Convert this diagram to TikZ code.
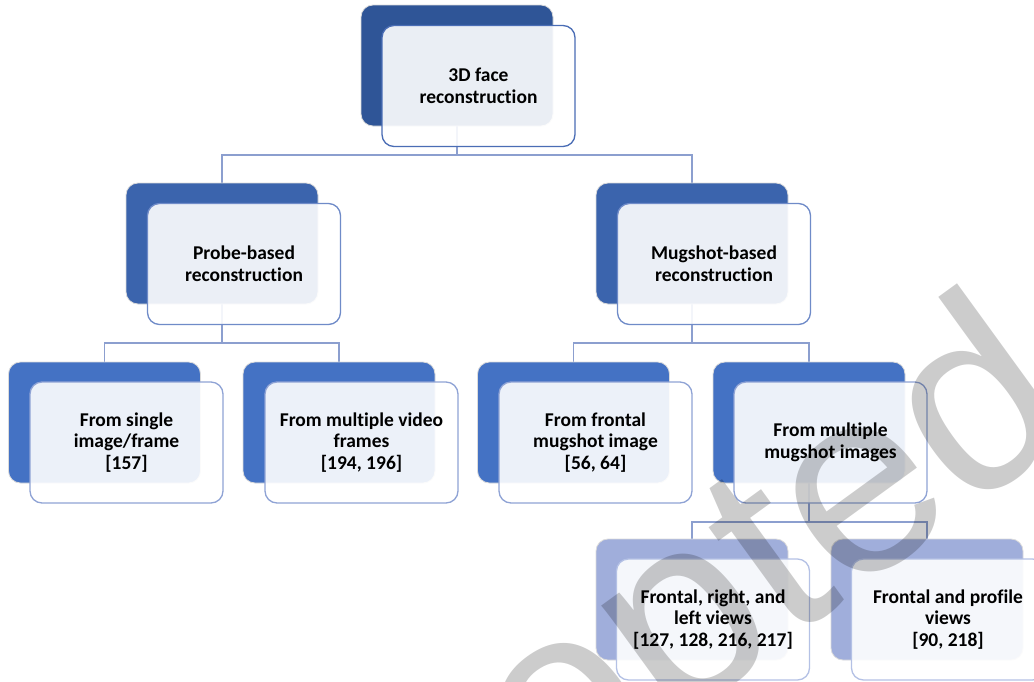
\documentclass[tikz,border=0pt]{standalone}
\usepackage{fontspec}
\setmainfont{Carlito}[Ligatures={NoCommon}]
\newfontfamily\markfont{Liberation Sans}
\pgfdeclarelayer{background}
\pgfsetlayers{background,main}

\definecolor{lvA}{HTML}{2F5597}
\definecolor{lvB}{HTML}{3B64AD}
\definecolor{lvC}{HTML}{4472C4}
\definecolor{lvD}{HTML}{A0AEDB}
\definecolor{edA}{HTML}{4A6DB5}
\definecolor{edB}{HTML}{6F8BC8}
\definecolor{edC}{HTML}{8FA3D5}
\definecolor{edD}{HTML}{B4C1E5}
\definecolor{linkblue}{HTML}{8C9FCF}

\tikzset{
  backbox/.style={rectangle, rounded corners=12pt, minimum width=192pt,
    minimum height=121pt, inner sep=0pt, draw=white!86!black, line width=0.8pt},
  frontbox/.style={rectangle, rounded corners=12pt, minimum width=193pt,
    minimum height=121pt, inner sep=0pt, fill=white, fill opacity=0.9,
    text opacity=1, line width=1.3pt, align=center,
    font=\fontsize{19.5}{21.7}\selectfont\bfseries},
  link/.style={draw=linkblue, line width=1.8pt},
  stamp/.style={font=\markfont\fontsize{263}{263}\selectfont, text=black,
    opacity=0.2, rotate=36, anchor=base, inner sep=0pt},
}

\begin{document}
\begin{tikzpicture}[x=1pt,y=-1pt]
\useasboundingbox (0,0) rectangle (1034,681);
\clip (0,0) rectangle (1034,681);

% root
\node[backbox, fill=lvA] (b0) at (457,65.5) {};
\node[frontbox, draw=edA] (f0) at (478.5,86) {3D face\\reconstruction};

% second level
\node[backbox, fill=lvB] (b1) at (222,243.5) {};
\node[frontbox, draw=edB] (f1) at (244,264) {Probe-based\\reconstruction};
\node[backbox, fill=lvB] (b2) at (692,243.5) {};
\node[frontbox, draw=edB] (f2) at (714,264) {Mugshot-based\\reconstruction};

% third level
\node[backbox, fill=lvC] (b3) at (104.5,422.5) {};
\node[frontbox, draw=edC] (f3) at (126.5,442.5) {From single\\image/frame\\{}[157]};
\node[backbox, fill=lvC] (b4) at (339,422.5) {};
\node[frontbox, draw=edC] (f4) at (361.5,442.5) {From multiple video\\frames\\{}[194, 196]};
\node[backbox, fill=lvC] (b5) at (573.5,422.5) {};
\node[frontbox, draw=edC] (f5) at (595.5,442.5) {From frontal\\mugshot image\\{}[56, 64]};
\node[backbox, fill=lvC] (b6) at (809,422.5) {};
\node[frontbox, draw=edC] (f6) at (830.5,442.5) {From multiple\\mugshot images};

% fourth level
\node[backbox, fill=lvD] (b7) at (692,599.5) {};
\node[frontbox, draw=edD] (f7) at (713,619.5) {Frontal, right, and\\left views\\{}[127, 128, 216, 217]};
\node[backbox, fill=lvD] (b8) at (927,599.5) {};
\node[frontbox, draw=edD] (f8) at (948,619.5) {Frontal and profile\\views\\{}[90, 218]};

% bus heights of the tree connectors
\coordinate (busA) at (0,155);
\coordinate (busB) at (0,343);
\coordinate (busC) at (0,522);

\begin{pgfonlayer}{background}
  \fill[white] (0,0) rectangle (1034,681);
  \draw[link] (b0.south) -- (b0.south |- busA);
  \draw[link] (b1.north) |- (b2.north |- busA) -- (b2.north);

  \draw[link] (b1.south) -- (b1.south |- busB);
  \draw[link] (b3.north) |- (b4.north |- busB) -- (b4.north);

  \draw[link] (b2.south) -- (b2.south |- busB);
  \draw[link] (b5.north) |- (b6.north |- busB) -- (b6.north);

  \draw[link] (b6.south) -- (b6.south |- busC);
  \draw[link] (b7.north) |- (b8.north |- busC) -- (b8.north);
\end{pgfonlayer}

% watermark
\node[stamp] (wm) at (640,750) {Accepted};
\end{tikzpicture}
\end{document}
